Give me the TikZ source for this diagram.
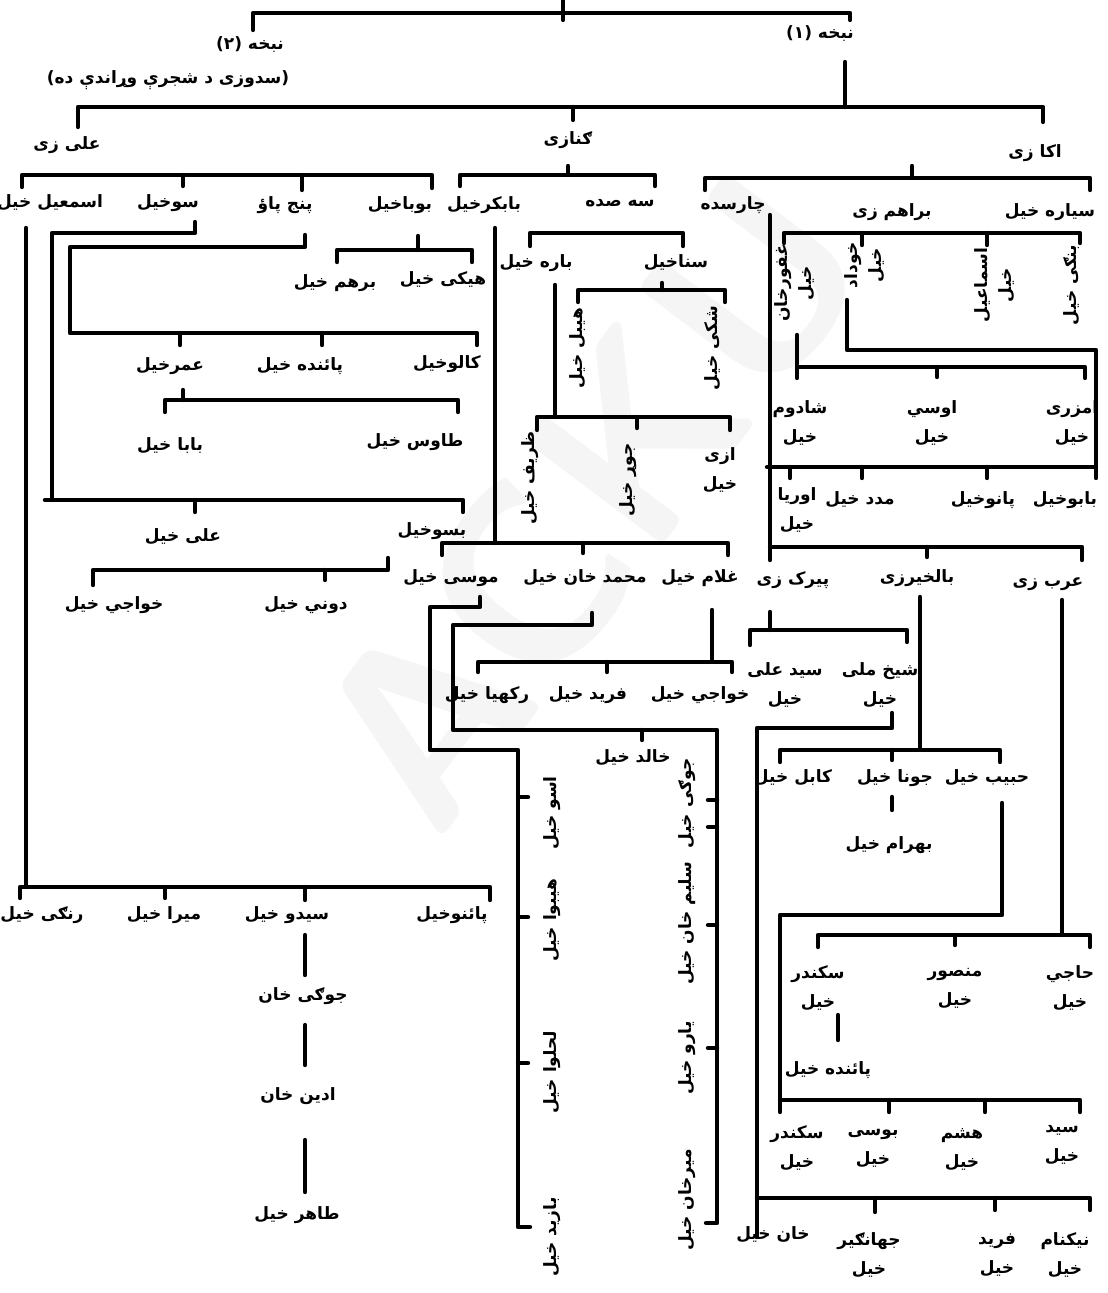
\documentclass[tikz,border=0pt]{standalone}
\usepackage{fontspec}
\newfontfamily\pashfont[Script=Arabic]{DejaVu Sans}
\TeXXeTstate=1
\newcommand{\pash}[1]{\beginR #1\endR}
\begin{document}
\begin{tikzpicture}[x=0.5pt, y=-0.5pt, line width=2.2pt, line join=round, line cap=round,
  font=\pashfont\bfseries\fontsize{8.5}{10}\selectfont,
  lbl/.style={inner sep=1pt},
  twoline/.style={inner sep=1pt, align=center, font=\pashfont\bfseries\fontsize{8.5}{14.5}\selectfont},
  vert/.style={inner sep=1pt, align=center, rotate=90, font=\pashfont\bfseries\fontsize{8.5}{12}\selectfont}]
\useasboundingbox (0,0) rectangle (1107,1293);
% watermark
\node[rotate=53, text=black!4, font=\sffamily\bfseries\fontsize{125}{125}\selectfont] (mark) at (590,500) {ACKU};
% top branches
\draw (563,0)--(563,20) (253,30)--(253,13)--(850,13)--(850,20);
\draw (845,62)--(845,107) (78,127)--(78,107)--(1043,107)--(1043,122) (573,107)--(573,120);
\draw (22,187)--(22,175)--(432,175)--(432,188) (183,175)--(183,186) (302,175)--(302,190);
\draw (460,186)--(460,175)--(655,175)--(655,186) (568,175)--(568,166);
\draw (705,190)--(705,178)--(1090,178)--(1090,190) (912,178)--(912,166);
% ali zi
\draw (26,228)--(26,887) (20,898)--(20,887)--(490,887)--(490,900) (165,887)--(165,898) (305,887)--(305,900);
\draw (305,935)--(305,975) (305,1025)--(305,1065) (305,1140)--(305,1192);
\draw (195,222)--(195,233)--(52,233)--(52,500) (45,500)--(463,500)--(463,512) (195,500)--(195,512);
\draw (388,558)--(388,570)--(93,570)--(93,585) (325,570)--(325,580);
\draw (305,235)--(305,247)--(70,247)--(70,333)--(477,333)--(477,345) (180,333)--(180,345) (322,333)--(322,345);
\draw (183,390)--(183,400) (165,412)--(165,400)--(458,400)--(458,412);
\draw (418,236)--(418,250) (337,262)--(337,250)--(472,250)--(472,262);
% ganazi
\draw (495,228)--(495,543) (442,555)--(442,543)--(728,543)--(728,555) (583,543)--(583,553);
\draw (530,246)--(530,233)--(683,233)--(683,246);
\draw (662,283)--(662,290) (578,302)--(578,290)--(725,290)--(725,302);
\draw (555,285)--(555,417) (537,430)--(537,417)--(730,417)--(730,430) (637,417)--(637,428);
\draw (480,597)--(480,607)--(430,607)--(430,750)--(518,750)--(518,1227)--(530,1227)
  (518,797)--(528,797) (518,917)--(528,917) (518,1063)--(528,1063);
\draw (592,613)--(592,625)--(453,625)--(453,730)--(717,730)--(717,1223)--(706,1223) (642,730)--(642,740)
  (717,800)--(708,800) (717,827)--(708,827) (717,925)--(708,925) (717,1048)--(708,1048);
\draw (712,610)--(712,662) (478,672)--(478,662)--(732,662)--(732,672) (607,662)--(607,672);
% akazi
\draw (784,243)--(784,233)--(1080,233)--(1080,243) (862,233)--(862,245) (987,233)--(987,245);
\draw (770,215)--(770,560) (770,547)--(1082,547)--(1082,560) (927,547)--(927,557);
\draw (797,335)--(797,378) (797,367)--(1085,367)--(1085,378) (937,367)--(937,377);
\draw (847,300)--(847,350)--(1096,350)--(1096,478) (1096,467)--(767,467)
  (790,467)--(790,478) (862,467)--(862,478) (987,467)--(987,478);
\draw (770,612)--(770,630) (750,645)--(750,630)--(907,630)--(907,642);
\draw (892,713)--(892,728)--(757,728)--(757,1237) (757,1198)--(1090,1198)--(1090,1210)
  (875,1198)--(875,1212) (995,1198)--(995,1210);
\draw (920,597)--(920,750) (780,762)--(780,750)--(1000,750)--(1000,762) (892,750)--(892,760);
\draw (892,797)--(892,810);
\draw (1002,803)--(1002,915)--(780,915)--(780,1112) (780,1100)--(1080,1100)--(1080,1112)
  (889,1100)--(889,1112) (985,1100)--(985,1112);
\draw (1062,600)--(1062,935) (818,947)--(818,935)--(1090,935)--(1090,947) (955,935)--(955,945);
\draw (838,1015)--(838,1040);
% headings
\node[lbl, font=\pashfont\bfseries\fontsize{8.5}{10}\selectfont] (ntwo) at (250,45) {\pash{نبخه (۲)}};
\node[lbl, font=\pashfont\bfseries\fontsize{8.5}{10}\selectfont] (note) at (168,80) {\pash{(سدوزی د شجرې وړاندې ده)}};
\node[lbl, font=\pashfont\bfseries\fontsize{8.5}{10}\selectfont] (none) at (820,34) {\pash{نبخه (۱)}};
% one-line labels
\foreach \n/\x/\y/\t in {alizi/67/145/علی زی, ganazi/568/140/ګنازی, akazi/1035/153/اکا زی,
  ismail/50/203/اسمعیل خیل, sukh/168/203/سوخیل, panj/285/205/پنج پاؤ, buba/400/205/بوباخیل,
  bakar/484/205/بابکرخیل, sehsada/620/203/سه صده, charsada/733/205/چارسده,
  brahim/892/212/براهم زی, syara/1050/212/سیاره خیل,
  barham/335/283/برهم خیل, hiki/443/280/هیکی خیل, umar/170/366/عمرخیل,
  painda/300/366/پائنده خیل, kalu/447/364/کالوخیل, baba/170/446/بابا خیل,
  tawus/415/442/طاوس خیل, alikh/183/537/علی خیل, basu/432/531/بسوخیل,
  khwaja/114/605/خواجي خیل, duni/306/605/دوني خیل, rangi/42/915/رنګی خیل,
  mira/164/915/میرا خیل, sayyedo/287/915/سیدو خیل, painu/452/915/پائنوخیل,
  jogi/303/996/جوګی خان, adin/298/1096/ادین خان, tahir/297/1215/طاهر خیل,
  bara/536/263/باره خیل, sana/676/263/سناخیل, musa/451/578/موسی خیل,
  mkhan/585/578/محمد خان خیل, ghulam/700/578/غلام خیل, rakhya/487/695/رکهیا خیل,
  farid/588/695/فرید خیل, khwajb/700/695/خواجي خیل, khalid/633/758/خالد خیل,
  madad/860/500/مدد خیل, panu/983/500/پانوخیل, babu/1065/500/بابوخیل,
  pirak/793/580/پیرک زی, balkhair/917/578/بالخیرزی, arab/1048/584/عرب زی,
  kabul/793/778/کابل خیل, juna/895/778/جونا خیل, habib/987/778/حبیب خیل,
  bahram/889/845/بهرام خیل, paindb/828/1070/پائنده خیل, khan/773/1235/خان خیل}
  \node[lbl] (\n) at (\x,\y) {\pash{\t}};
% two-line labels
\foreach \n/\x/\y/\t/\u in {azi/720/470/ازی/خیل, shadum/800/423/شادوم/خیل, osi/932/423/اوسي/خیل,
  amzari/1072/423/امزری/خیل, orya/797/510/اوریا/خیل, sayyedali/785/685/سید علی/خیل,
  shaikh/880/685/شیخ ملی/خیل, sikand/818/988/سکندر/خیل, mansur/955/988/منصور/خیل,
  haji/1070/988/حاجي/خیل, sikandb/797/1148/سکندر/خیل, busi/873/1148/بوسی/خیل,
  hashim/962/1150/هشم/خیل, sayyed/1062/1145/سید/خیل, jahangir/869/1255/جهانګیر/خیل,
  faridb/997/1255/فرید/خیل, neknam/1065/1255/نیکنام/خیل}
  \node[twoline] (\n) at (\x,\y) {\pash{\t}\\\pash{\u}};
% vertical labels
\foreach \n/\x/\y/\t in {hibal/578/348/هیبل خیل, shaki/713/348/شکی خیل, zarif/530/478/ظریف خیل,
  jor/628/480/جوړ خیل, aso/552/813/اسو خیل, hibwa/552/920/هیبوا خیل, lahlwa/552/1072/لحلوا خیل,
  bayazid/552/1237/بازید خیل, jogikh/687/803/جوګی خیل, salim/687/923/سلیم خان خیل,
  yaru/687/1058/یارو خیل, mirkhan/687/1200/میرخان خیل, bangi/1072/285/بنګی خیل}
  \node[vert] (\n) at (\x,\y) {\pash{\t}};
\foreach \n/\x/\y/\t/\u in {ghafur/795/283/غفورخان/خیل, khudad/865/265/خوداد/خیل, ismaeel/995/285/اسماعیل/خیل}
  \node[vert] (\n) at (\x,\y) {\pash{\t}\\\pash{\u}};
\end{tikzpicture}
\end{document}
